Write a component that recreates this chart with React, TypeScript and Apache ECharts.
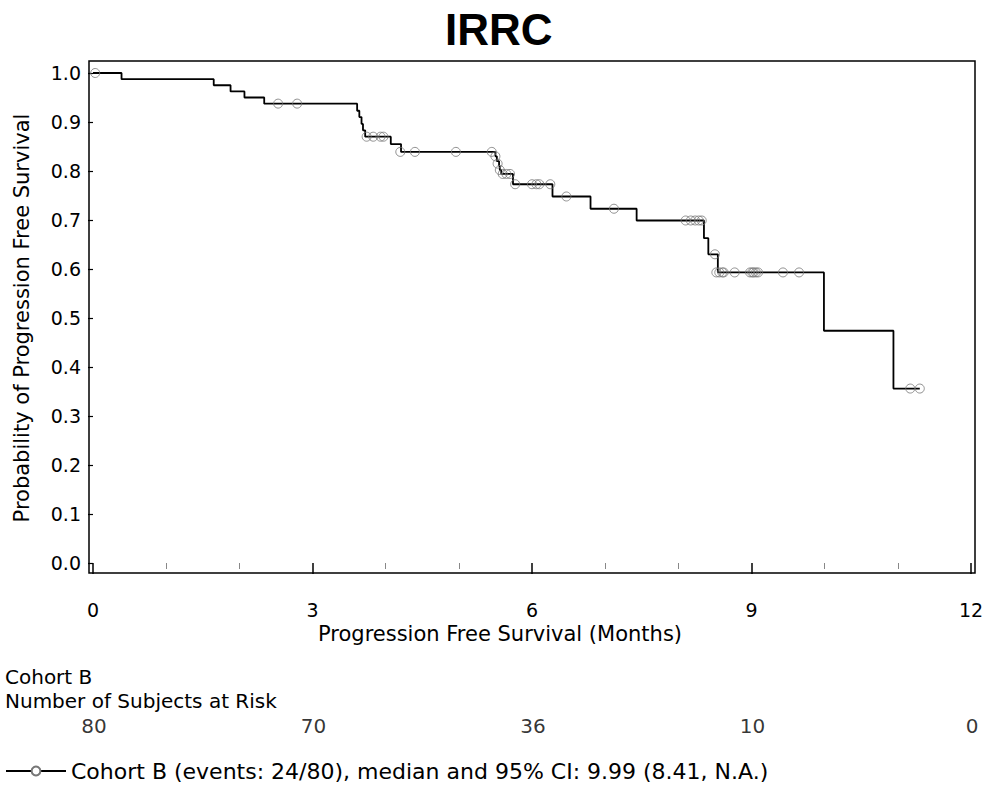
import React, { useEffect, useRef } from "react";
import * as echarts from "echarts";

// Kaplan-Meier step curve (time in months, survival probability)
const curveTimes = [0, 0.39, 1.65, 1.88, 2.07, 2.34, 3.61, 3.64, 3.67, 3.69, 3.72, 4.07, 4.21, 5.5, 5.52, 5.55, 5.56, 5.58, 5.74, 6.28, 6.8, 7.43, 8.35, 8.41, 8.54, 9.99, 10.94, 11.3];
const curveSurv = [1.0, 0.9875, 0.975, 0.9625, 0.95, 0.9375, 0.923, 0.91, 0.896, 0.883, 0.87, 0.855, 0.839, 0.83, 0.82, 0.81, 0.802, 0.794, 0.773, 0.748, 0.723, 0.699, 0.663, 0.63, 0.593, 0.474, 0.356, 0.356];

// Censored observations
const censorTimes = [0.03, 2.53, 2.79, 3.74, 3.83, 3.93, 3.97, 4.2, 4.4, 4.96, 5.45, 5.5, 5.53, 5.56, 5.6, 5.65, 5.7, 5.77, 6.0, 6.06, 6.1, 6.25, 6.47, 7.12, 8.1, 8.17, 8.23, 8.28, 8.32, 8.5, 8.52, 8.56, 8.6, 8.62, 8.77, 8.98, 9.01, 9.03, 9.06, 9.09, 9.43, 9.65, 11.17, 11.3];
const censorSurv = [1.0, 0.9375, 0.9375, 0.87, 0.87, 0.87, 0.87, 0.839, 0.839, 0.839, 0.839, 0.83, 0.815, 0.802, 0.794, 0.794, 0.794, 0.773, 0.773, 0.773, 0.773, 0.773, 0.748, 0.723, 0.699, 0.699, 0.699, 0.699, 0.699, 0.63, 0.593, 0.593, 0.593, 0.593, 0.593, 0.593, 0.593, 0.593, 0.593, 0.593, 0.593, 0.593, 0.356, 0.356];

// Number at risk table
const riskTimes = [0, 3, 6, 9, 12];
const riskCounts = [80, 70, 36, 10, 0];

const xTicks = [0, 3, 6, 9, 12];
const yTicks = [0, 0.1, 0.2, 0.3, 0.4, 0.5, 0.6, 0.7, 0.8, 0.9, 1.0];

const seriesName = "Cohort B (events: 24/80), median and 95% CI: 9.99 (8.41, N.A.)";
const FONT = "DejaVu Sans";

export default function App() {
  const ref = useRef<HTMLDivElement>(null);
  useEffect(() => {
    if (!ref.current) return;
    const chart = echarts.init(ref.current, null, { renderer: "svg" });
    const option: any = {
      animation: false,
      backgroundColor: "#fff",
      textStyle: { fontFamily: FONT, color: "#000" },
      title: {
        text: "IRRC",
        left: 440,
        top: 2,
        textStyle: { fontFamily: "Liberation Sans", fontWeight: "bold", fontSize: 44, color: "#000" },
      },
      legend: {
        left: 0,
        top: 755,
        itemWidth: 60,
        itemHeight: 11,
        itemGap: 8,
        data: [seriesName],
        textStyle: { fontFamily: FONT, fontSize: 22, color: "#000" },
      },
      grid: [
        { left: 93, right: 16, top: 73, bottom: 235 },
        { left: 93, right: 16, top: 714, height: 24 },
      ],
      xAxis: [
        {
          type: "value",
          gridIndex: 0,
          min: xTicks[0],
          max: xTicks[xTicks.length - 1],
          interval: 3,
          offset: 12,
          axisLine: { show: false },
          axisTick: { show: true, length: 11, lineStyle: { color: "#000", width: 1.5 } },
          minorTick: { show: true, splitNumber: 3, length: 6, lineStyle: { color: "#888", width: 1 } },
          splitLine: { show: false },
          axisLabel: { margin: 25, fontSize: 19, fontFamily: FONT, color: "#000" },
        },
        {
          type: "value",
          gridIndex: 1,
          min: xTicks[0],
          max: xTicks[xTicks.length - 1],
          show: false,
        },
      ],
      yAxis: [
        {
          type: "value",
          gridIndex: 0,
          min: yTicks[0],
          max: yTicks[yTicks.length - 1],
          interval: 0.1,
          offset: 4,
          axisLine: { show: false },
          axisTick: { show: true, length: 5, lineStyle: { color: "#000", width: 1.2 } },
          splitLine: { show: false },
          axisLabel: {
            margin: 8,
            fontSize: 19,
            fontFamily: FONT,
            color: "#000",
            formatter: (v: number) => v.toFixed(1),
          },
          name: "Probability of Progression Free Survival",
          nameLocation: "middle",
          nameGap: 57,
          nameTextStyle: { fontSize: 21, fontFamily: FONT, color: "#000" },
        },
        { type: "value", gridIndex: 1, min: 0, max: 1, show: false },
      ],
      graphic: [
        {
          type: "rect",
          shape: { x: 89, y: 61, width: 886, height: 512 },
          style: { fill: "none", stroke: "#000", lineWidth: 1.5 },
          silent: true,
          z: 0,
        },
        {
          type: "text",
          x: 500,
          y: 634,
          style: {
            text: "Progression Free Survival (Months)",
            font: `21px '${FONT}'`,
            fill: "#000",
            align: "center",
            verticalAlign: "middle",
          },
        },
        {
          type: "text",
          x: 5,
          y: 677,
          style: { text: "Cohort B", font: `20px '${FONT}'`, fill: "#000", align: "left", verticalAlign: "middle" },
        },
        {
          type: "text",
          x: 5,
          y: 701,
          style: {
            text: "Number of Subjects at Risk",
            font: `20px '${FONT}'`,
            fill: "#000",
            align: "left",
            verticalAlign: "middle",
          },
        },
      ],
      series: [
        {
          name: seriesName,
          type: "line",
          xAxisIndex: 0,
          yAxisIndex: 0,
          step: "end",
          data: curveTimes.map((t, i) => [t, curveSurv[i]]),
          showSymbol: false,
          symbol: "emptyCircle",
          symbolSize: 9,
          lineStyle: { color: "#000", width: 1.8 },
          itemStyle: { color: "#777", borderColor: "#777", borderWidth: 1 },
          z: 3,
        },
        {
          name: "censored",
          type: "scatter",
          xAxisIndex: 0,
          yAxisIndex: 0,
          data: censorTimes.map((t, i) => [t, censorSurv[i]]),
          symbol: "circle",
          symbolSize: 9,
          itemStyle: { color: "rgba(255,255,255,0)", borderColor: "#777", borderWidth: 1 },
          z: 4,
        },
        {
          name: "risk",
          type: "scatter",
          xAxisIndex: 1,
          yAxisIndex: 1,
          data: riskTimes.map((t, i) => [t, 0.5, riskCounts[i]]),
          symbolSize: 0,
          label: {
            show: true,
            position: "inside",
            offset: [1, 0],
            formatter: (p: any) => String(p.value[2]),
            fontSize: 20,
            fontFamily: FONT,
            color: "#000",
          },
          silent: true,
        },
      ],
    };
    chart.setOption(option);
    return () => chart.dispose();
  }, []);
  return (
    <div
      ref={ref}
      style={{ position: "absolute", left: 0, top: 0, width: 987, height: 798, background: "#fff" }}
    />
  );
}
